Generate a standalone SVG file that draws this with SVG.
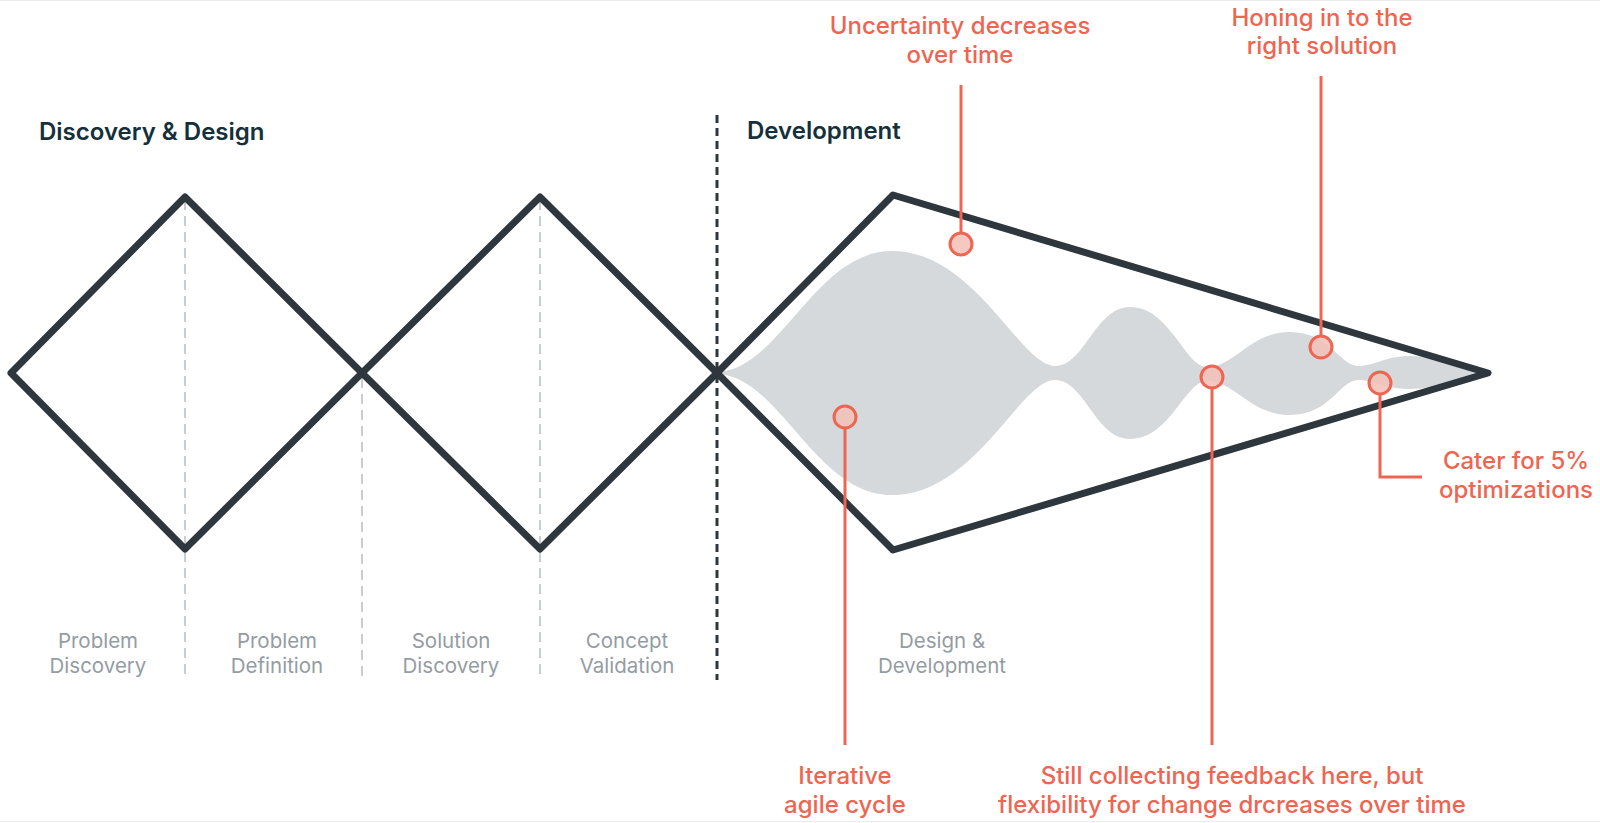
<svg xmlns="http://www.w3.org/2000/svg" width="1600" height="823" viewBox="0 0 1600 823">
<style>
.frame{fill:none;stroke:#2e373d;stroke-width:7;stroke-linejoin:round;stroke-linecap:round}
.gdash{stroke:#c9ced2;stroke-width:2;stroke-dasharray:10 6}
.kdash{stroke:#2e373d;stroke-width:3;stroke-dasharray:8 5}
.title{font-family:Inter,"Liberation Sans",sans-serif;font-weight:600;font-size:24px;fill:#14303a}
.phase{font-family:Inter,"Liberation Sans",sans-serif;font-weight:400;font-size:20.5px;fill:#949ca3;text-anchor:middle}
.note{font-family:Inter,"Liberation Sans",sans-serif;font-weight:500;font-size:24px;fill:#ee6552;text-anchor:middle}
.lead{fill:none;stroke:#ee6552;stroke-width:3}
.dot{fill:#f3bfb6;fill-opacity:0.85;stroke:#ee6552;stroke-width:3}
</style>
<rect x="0" y="0" width="1600" height="823" fill="#ffffff"/>
<line x1="0" y1="0.5" x2="1600" y2="0.5" stroke="#ececec"/>
<line x1="0" y1="821.5" x2="1600" y2="821.5" stroke="#ececec"/>

<g id="guides">
<line class="gdash" x1="185" y1="200" x2="185" y2="680"/>
<line class="gdash" x1="362" y1="378" x2="362" y2="680"/>
<line class="gdash" x1="540" y1="200" x2="540" y2="680"/>
<line class="kdash" x1="717" y1="115" x2="717" y2="680"/>
</g>

<g id="blob">
<path fill="#d5d9dc" d="M 717 372 C 780 370, 815 251, 892 251 C 975 251, 1020 366, 1055 366 C 1085 366, 1095 307, 1130 307 C 1170 307, 1185 367, 1207 367 C 1235 367, 1250 332, 1290 332 C 1330 332, 1340 366, 1358 366 C 1375 366, 1385 356, 1410 356 C 1440 356, 1460 370, 1485 373 C 1460 376, 1440 389, 1410 389 C 1385 389, 1375 380, 1358 380 C 1340 380, 1330 415, 1290 415 C 1250 415, 1235 381, 1207 381 C 1185 381, 1170 439, 1130 439 C 1095 439, 1085 380, 1055 380 C 1020 380, 975 495, 892 495 C 815 495, 780 376, 717 374 Z"/>
</g>

<g id="diamond-1"><path class="frame" d="M 11 373 L 185 197 L 362 373 L 185 549 Z"/></g>
<g id="diamond-2"><path class="frame" d="M 362 373 L 540 197 L 717 373 L 540 549 Z"/></g>
<g id="development-funnel"><path class="frame" d="M 717 373 L 893 195 L 1488 373 L 893 550 Z"/></g>

<g id="headers">
<text class="title" x="39" y="140">Discovery &amp; Design</text>
<text class="title" x="747" y="139">Development</text>
</g>

<g id="phases">
<text class="phase" x="98" y="648">Problem</text><text class="phase" x="98" y="673">Discovery</text>
<text class="phase" x="277" y="648">Problem</text><text class="phase" x="277" y="673">Definition</text>
<text class="phase" x="451" y="648">Solution</text><text class="phase" x="451" y="673">Discovery</text>
<text class="phase" x="627" y="648">Concept</text><text class="phase" x="627" y="673">Validation</text>
<text class="phase" x="942" y="648">Design &amp;</text><text class="phase" x="942" y="673">Development</text>
</g>

<g id="connectors">
<line class="lead" x1="961" y1="85" x2="961" y2="233"/>
<line class="lead" x1="1321" y1="76" x2="1321" y2="335"/>
<line class="lead" x1="845" y1="428" x2="845" y2="745"/>
<line class="lead" x1="1212" y1="389" x2="1212" y2="745"/>
<polyline class="lead" points="1380,395 1380,477 1422,477"/>
</g>

<g id="callout-uncertainty">
<circle class="dot" cx="961" cy="244" r="11"/>
<text class="note" x="960" y="34">Uncertainty decreases</text>
<text class="note" x="960" y="63">over time</text>
</g>
<g id="callout-honing">
<circle class="dot" cx="1321" cy="347" r="11"/>
<text class="note" x="1322" y="26">Honing in to the</text>
<text class="note" x="1322" y="54">right solution</text>
</g>
<g id="callout-iterative">
<circle class="dot" cx="845" cy="417" r="11"/>
<text class="note" x="845" y="784">Iterative</text>
<text class="note" x="845" y="813">agile cycle</text>
</g>
<g id="callout-feedback">
<circle class="dot" cx="1212" cy="377" r="11"/>
<text class="note" x="1232" y="784">Still collecting feedback here, but</text>
<text class="note" x="1232" y="813">flexibility for change drcreases over time</text>
</g>
<g id="callout-optimizations">
<circle class="dot" cx="1380" cy="383" r="11"/>
<text class="note" x="1516" y="469">Cater for 5%</text>
<text class="note" x="1516" y="498">optimizations</text>
</g>
</svg>
